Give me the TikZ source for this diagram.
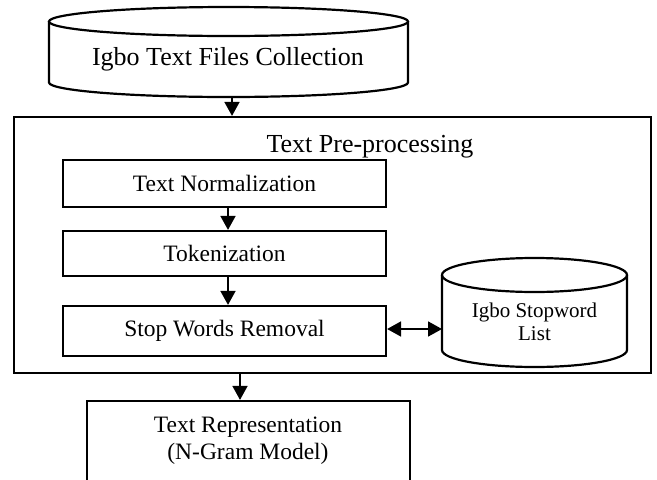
\documentclass[tikz,border=0pt]{standalone}
\usepackage{fontspec}
\setmainfont{Liberation Serif}
\usetikzlibrary{arrows.meta,calc}
\begin{document}
\begin{tikzpicture}[x=1pt,y=-1pt,
  box/.style={draw, line width=2.2pt, inner sep=0pt, align=center},
  hold/.style={inner sep=0pt, outer sep=0pt},
  lbl/.style={inner sep=0pt, align=center},
  cyl/.style={line width=2.2pt},
  arr/.style={line width=1.8pt, -{Triangle[length=14pt,width=15pt]}},
  darr/.style={line width=1.8pt, {Triangle[length=14pt,width=15pt]}-{Triangle[length=14pt,width=15pt]}},
  big/.style={font=\fontsize{26}{30}\selectfont},
  mid/.style={font=\fontsize{23.5}{27}\selectfont},
  small/.style={font=\fontsize{21}{23}\selectfont}]
\useasboundingbox (0,0) rectangle (657,480);

% Igbo text files collection (cylinder)
\node[hold, minimum width=359pt, minimum height=90pt] (src) at (228.5,52) {};
\draw[cyl] (49,21.5) -- (49,82.5) arc[start angle=180, end angle=360, x radius=179.5pt, y radius=14.5pt] -- (408,21.5);
\draw[cyl] (228.5,21.5) ellipse[x radius=179.5pt, y radius=14.5pt];
\node[lbl, big, anchor=base] (srct) at (228,65) {Igbo Text Files Collection};

% Pre-processing container
\node[box, minimum width=637pt, minimum height=256pt] (pre) at (332.5,245) {};
\node[lbl, big, anchor=base] (pret) at (370,152) {Text Pre-processing};

% Steps
\node[box, mid, minimum width=323pt, minimum height=47pt] (norm) at (224.5,183.5) {Text Normalization};
\node[box, mid, minimum width=323pt, minimum height=45pt] (tok) at (224.5,253.5) {Tokenization};
\node[box, mid, minimum width=323pt, minimum height=50pt] (stop) at (224.5,331) {Stop Words Removal};

% Igbo stopword list (cylinder)
\node[hold, minimum width=185pt, minimum height=109pt] (lst) at (534.5,312.5) {};
\draw[cyl] (442,275) -- (442,350) arc[start angle=180, end angle=360, x radius=92.5pt, y radius=17pt] -- (627,275);
\draw[cyl] (534.5,275) ellipse[x radius=92.5pt, y radius=17pt];
\node[lbl, small] (lstt) at (534.5,321.5) {Igbo Stopword\\List};

% Text representation
\node[box, minimum width=323pt, minimum height=84pt] (rep) at (248.5,443) {};
\node[lbl, mid] (rept) at (248,441) {Text Representation\\(N-Gram Model)};

% Connectors
\draw[arr] ([xshift=3.5pt]src.south) -- ([xshift=3.5pt]src.south |- pre.north);
\draw[arr] ([xshift=3.5pt]norm.south) -- ([xshift=3.5pt]tok.north);
\draw[arr] ([xshift=3.5pt]tok.south) -- ([xshift=3.5pt]stop.north);
\draw[darr] ([yshift=2pt]stop.east) -- ([yshift=2pt]stop.east -| lst.west);
\draw[arr] ([xshift=-8.5pt]rep.north |- pre.south) -- ([xshift=-8.5pt]rep.north);
\end{tikzpicture}
\end{document}
